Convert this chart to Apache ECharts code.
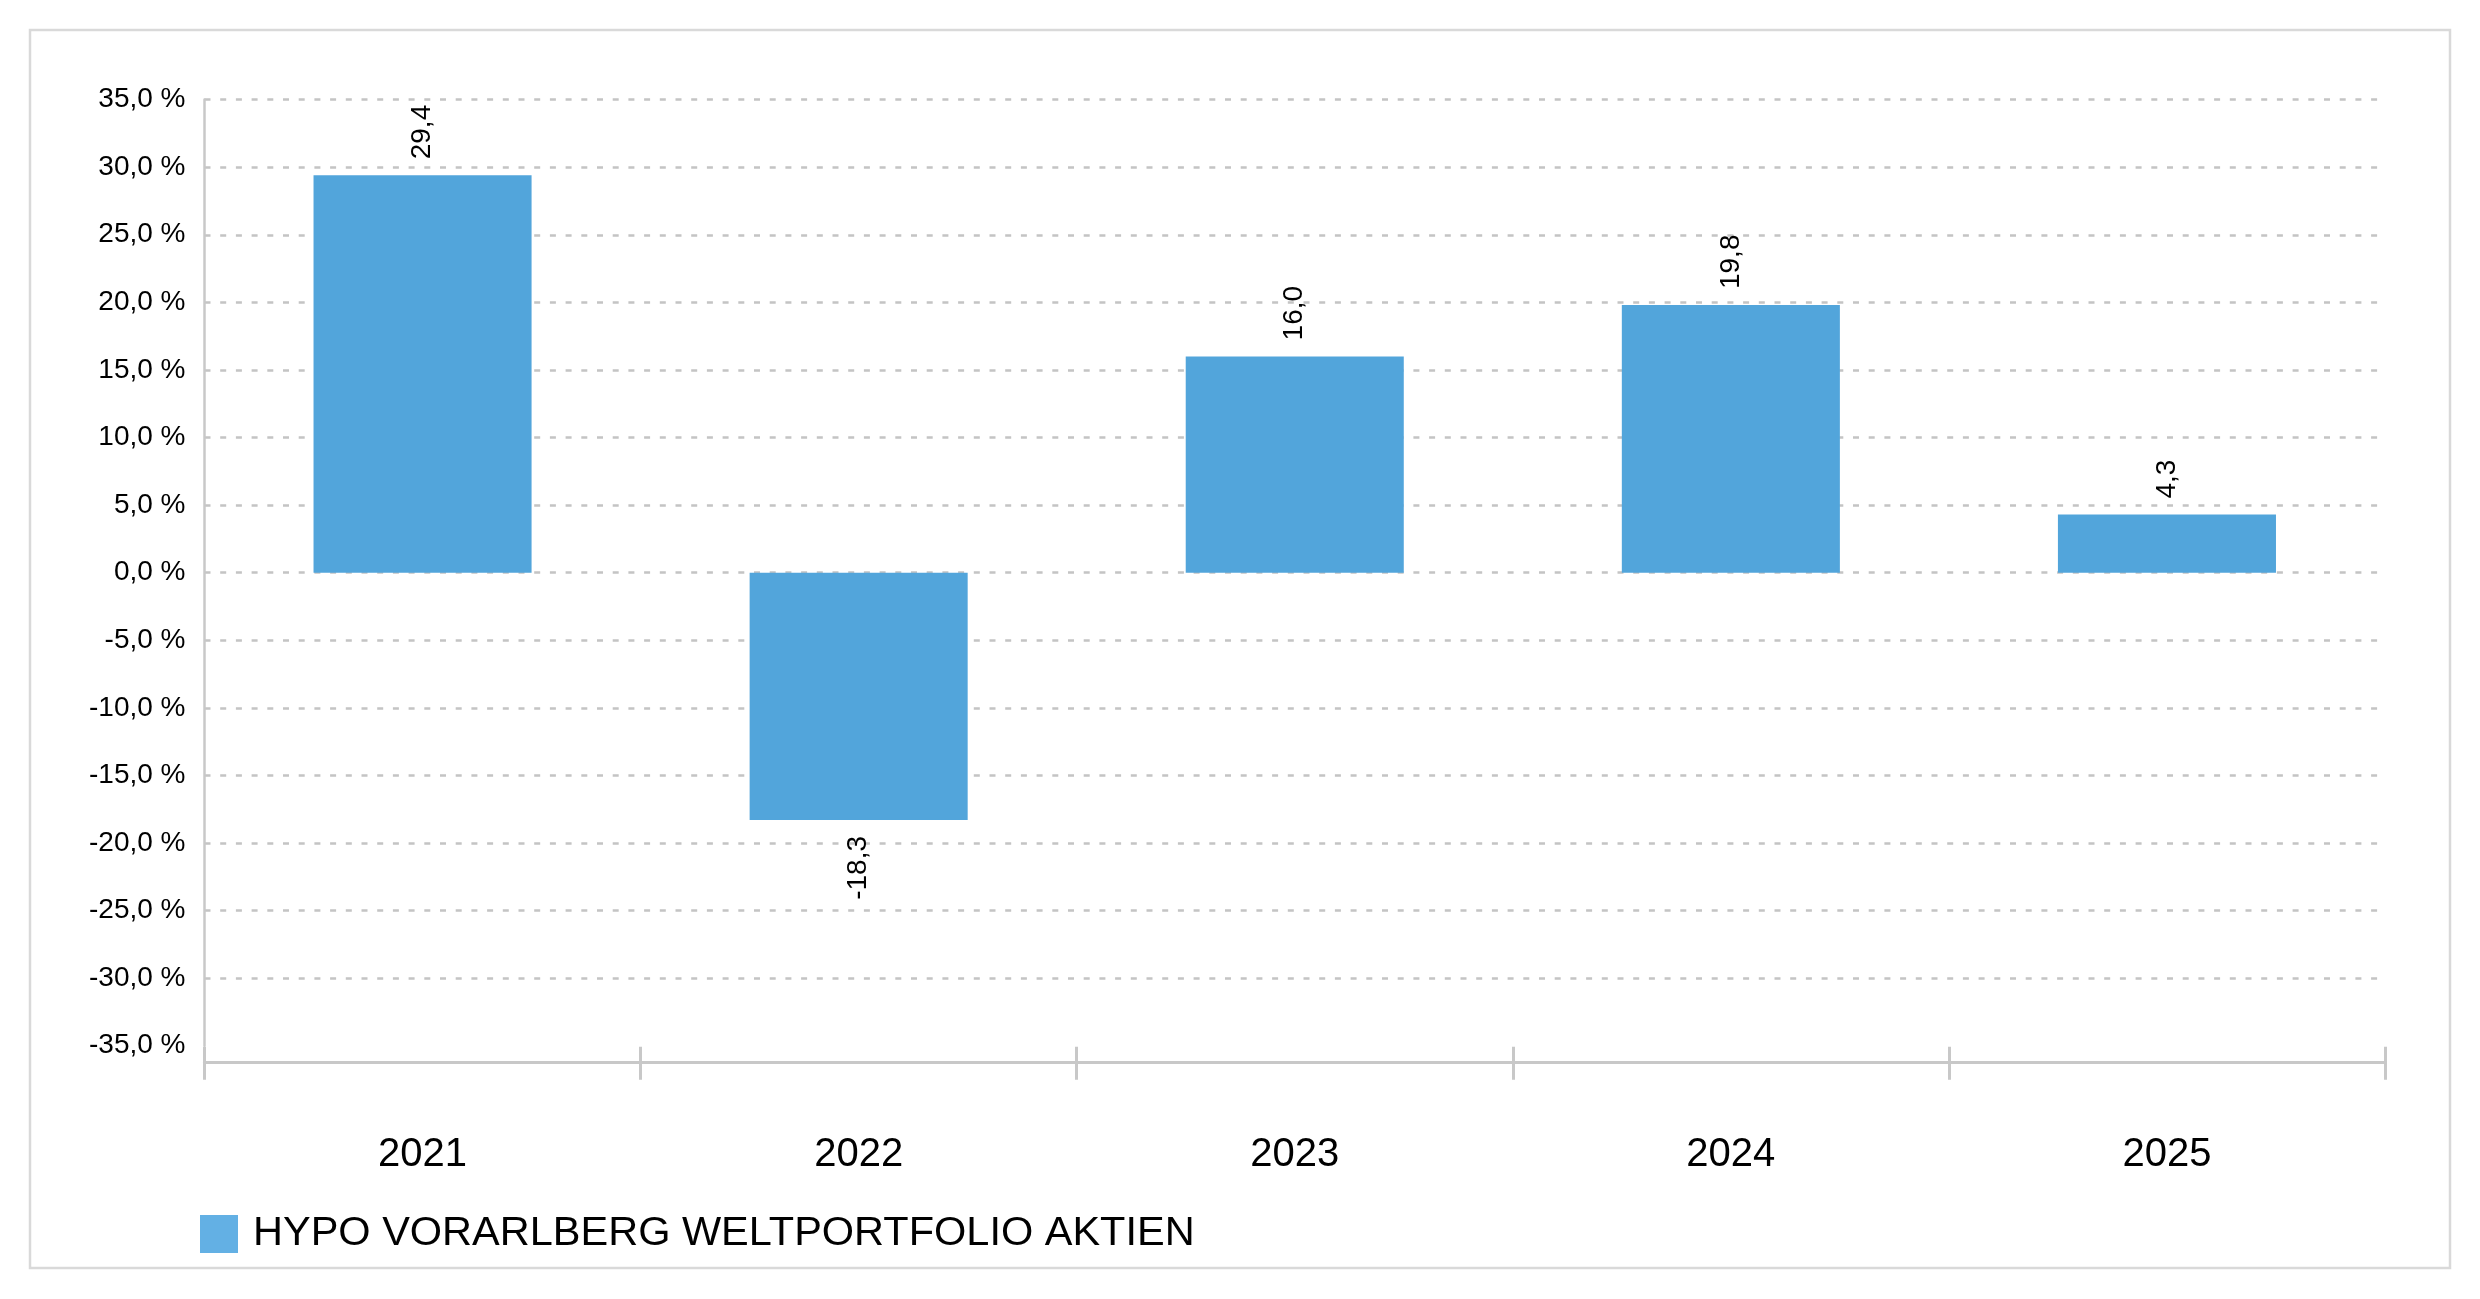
<!DOCTYPE html>
<html>
<head>
<meta charset="utf-8">
<script src="https://cdn.jsdelivr.net/npm/echarts@6/dist/echarts.min.js"></script>
<style>
html,body{margin:0;padding:0;background:#fff;}
#chart{width:2480px;height:1299px;}
</style>
</head>
<body>
<div id="chart"></div>
<script>
const categories = ['2021', '2022', '2023', '2024', '2025'];
const seriesName = 'HYPO VORARLBERG WELTPORTFOLIO AKTIEN';
const values = [29.4, -18.3, 16.0, 19.8, 4.3];
const yMin = -35, yMax = 35, yStep = 5;

const FONT = '"Liberation Sans", Arial, sans-serif';
const fmt = v => v.toFixed(1).replace('.', ',');

const chart = echarts.init(document.getElementById('chart'), null, {renderer: 'canvas'});
chart.setOption({
  backgroundColor: '#ffffff',
  animation: false,
  textStyle: {fontFamily: FONT},
  graphic: [{
    type: 'rect',
    shape: {x: 30, y: 30, width: 2420, height: 1238},
    style: {fill: 'none', stroke: '#d9d9d9', lineWidth: 2.5},
    silent: true, z: -10
  }],
  grid: {left: 204.5, right: 95, top: 99.6, bottom: 253.3, containLabel: false},
  legend: {
    left: 195, top: 1208,
    padding: 5,
    itemWidth: 38, itemHeight: 38,
    icon: 'rect',
    textStyle: {fontSize: 41.5, color: '#000', fontFamily: FONT, lineHeight: 40, padding: [0, 0, 0, 10]},
    data: [{name: seriesName, itemStyle: {color: '#63B0E4'}}]
  },
  xAxis: [{
    type: 'category',
    data: categories,
    offset: 17,
    axisLine: {onZero: false, lineStyle: {color: '#c8c8c8', width: 3}},
    axisTick: {show: true, length: 17, lineStyle: {color: '#c8c8c8', width: 3}},
    axisLabel: {fontSize: 40, color: '#000', margin: 72, fontFamily: FONT},
    splitLine: {show: false}
  }, {
    type: 'category',
    data: categories,
    position: 'bottom',
    offset: 17,
    axisLine: {show: false, onZero: false},
    axisTick: {show: true, inside: true, length: 16, lineStyle: {color: '#c8c8c8', width: 3}},
    axisLabel: {show: false},
    splitLine: {show: false}
  }],
  yAxis: {
    type: 'value',
    min: yMin, max: yMax, interval: yStep,
    axisLine: {show: true, lineStyle: {color: '#c8c8c8', width: 2.5}},
    axisTick: {show: false},
    axisLabel: {fontSize: 28, color: '#000', margin: 19, fontFamily: FONT,
      padding: [5, 0, 0, 0],
      formatter: v => fmt(v) + ' %'},
    splitLine: {show: true, showMinLine: false,
      lineStyle: {color: '#c4c4c4', width: 2.5, type: [6, 9.7]}}
  },
  series: [{
    name: seriesName,
    type: 'bar',
    xAxisIndex: 0,
    barWidth: '50%',
    itemStyle: {color: '#52A5DB'},
    label: {
      show: true, rotate: 90, distance: 16, fontSize: 28, color: '#000',
      fontFamily: FONT, verticalAlign: 'middle',
      formatter: p => fmt(p.value)
    },
    data: values.map(v => ({
      value: v,
      label: {position: v >= 0 ? 'top' : 'bottom', align: v >= 0 ? 'left' : 'right'}
    }))
  }]
});
</script>
</body>
</html>
